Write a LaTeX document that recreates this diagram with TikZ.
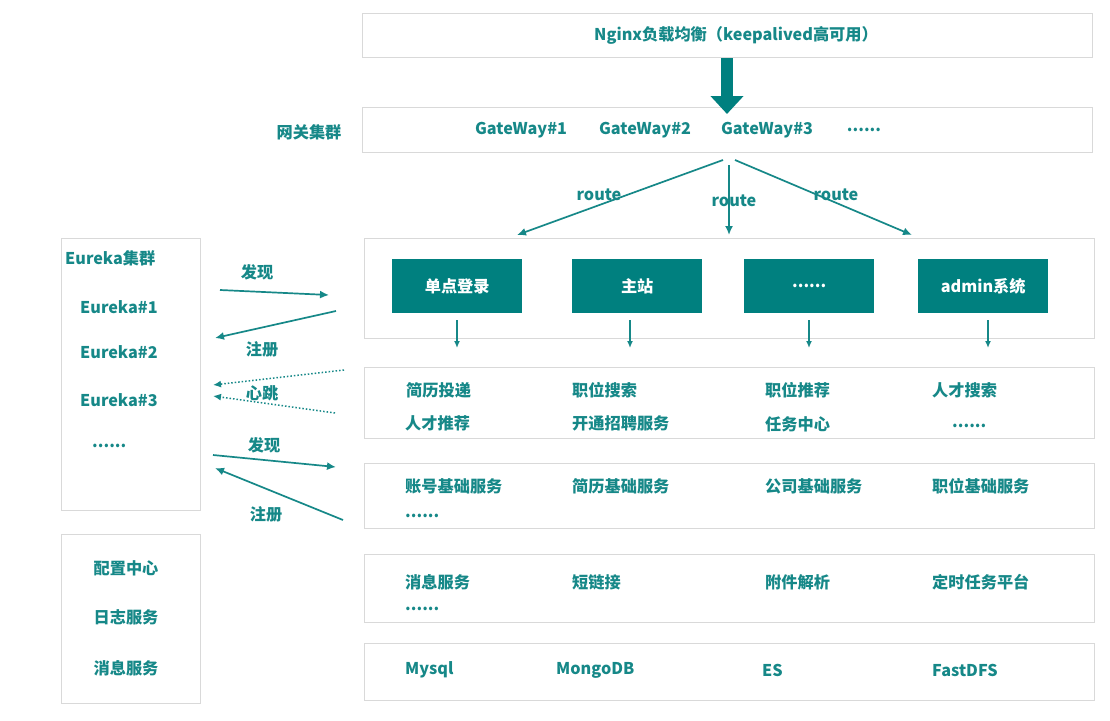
\documentclass[tikz,border=0pt]{standalone}
\usepackage{fontspec}
\setmainfont{Noto Sans CJK SC}
\usetikzlibrary{arrows.meta}
\definecolor{tealtxt}{HTML}{168888}
\definecolor{tealbox}{HTML}{00807F}
\definecolor{boxline}{HTML}{D9D9D9}
\begin{document}
\begin{tikzpicture}[x=1pt,y=-1pt,
  font=\fontsize{16.2}{19}\selectfont\bfseries,
  panel/.style={draw=boxline, line width=1.2pt, fill=white, anchor=north west, inner sep=0pt},
  lbl/.style={text=tealtxt, inner sep=0pt},
  wlbl/.style={lbl, anchor=west},
  svc/.style={fill=tealbox, text=white, minimum width=130pt, minimum height=54pt, inner sep=0pt, anchor=north west},
  arr/.style={draw=tealtxt, line width=1.7pt, -{Latex[length=9pt,width=8pt]}},
  darr/.style={draw=tealtxt, line width=1.5pt, dotted, -{Latex[length=8pt,width=7pt]}},
  sarr/.style={draw=tealtxt, line width=1.4pt, -{Latex[length=7pt,width=6pt]}}]
\useasboundingbox[fill=white] (0,0) rectangle (1110,720);

% panels
\node[panel, minimum width=730pt, minimum height=44pt] (nginx) at (362,13) {};
\node[lbl] (nginxt) at (736,35) {Nginx负载均衡（keepalived高可用）};
\node[panel, minimum width=730pt, minimum height=45pt] (gw) at (362,107) {};
\node[panel, minimum width=730pt, minimum height=100pt] (web) at (364,238) {};
\node[panel, minimum width=730pt, minimum height=71pt] (biz) at (364,367) {};
\node[panel, minimum width=730pt, minimum height=65pt] (base) at (364,463) {};
\node[panel, minimum width=730pt, minimum height=68pt] (comp) at (364,554) {};
\node[panel, minimum width=730pt, minimum height=57pt] (db) at (364,643) {};
\node[panel, minimum width=139pt, minimum height=272pt] (eureka) at (61,238) {};
\node[panel, minimum width=139pt, minimum height=169pt] (conf) at (61,534) {};

% big arrow
\coordinate (bigs) at (727,58);
\coordinate (bige) at (727,114);
\draw[tealbox, line width=12pt, -{Triangle[length=18pt,width=32pt]}] (bigs) -- (bige);

% gateway
\node[lbl] (gwlabel) at (309,132) {网关集群};
\node[lbl] (gw1) at (521,130) {GateWay\#1};
\node[lbl] (gw2) at (645,130) {GateWay\#2};
\node[lbl] (gw3) at (767,130) {GateWay\#3};
\node[lbl] (gw4) at (864,130) {......};

% route arrows
\coordinate (r1s) at (723,160);
\coordinate (r2s) at (729,165);
\coordinate (r3s) at (735,160);
\coordinate (r1e) at (517,235);
\coordinate (r2e) at (729,235);
\coordinate (r3e) at (912,235);
\draw[arr] (r1s) -- (r1e);
\draw[arr] (r2s) -- (r2e);
\draw[arr] (r3s) -- (r3e);
\node[lbl] (rt1) at (599,195) {route};
\node[lbl] (rt2) at (734,201) {route};
\node[lbl] (rt3) at (836,195) {route};

% web apps
\node[svc] (sso) at (392,259) {单点登录};
\node[svc] (main) at (572,259) {主站};
\node[svc] (more) at (744,259) {......};
\node[svc] (admin) at (918,259) {admin系统};
\foreach \x/\n in {457/a,630/b,809/c,988/d}{
  \coordinate (d\n s) at (\x,320);
  \coordinate (d\n e) at (\x,348);
  \draw[sarr] (d\n s) -- (d\n e);
}

% business row
\node[wlbl] (b1) at (406,390) {简历投递};
\node[wlbl] (b2) at (572,390) {职位搜索};
\node[wlbl] (b3) at (765,390) {职位推荐};
\node[wlbl] (b4) at (932,390) {人才搜索};
\node[wlbl] (b5) at (405,423) {人才推荐};
\node[wlbl] (b6) at (572,423) {开通招聘服务};
\node[wlbl] (b7) at (765,424) {任务中心};
\node[wlbl] (b8) at (952,426) {......};

% base row
\node[wlbl] (c1) at (405,486) {账号基础服务};
\node[wlbl] (c2) at (572,486) {简历基础服务};
\node[wlbl] (c3) at (765,486) {公司基础服务};
\node[wlbl] (c4) at (932,486) {职位基础服务};
\node[wlbl] (c5) at (405,516) {......};

% component row
\node[wlbl] (m1) at (405,582) {消息服务};
\node[wlbl] (m2) at (572,582) {短链接};
\node[wlbl] (m3) at (765,582) {附件解析};
\node[wlbl] (m4) at (932,582) {定时任务平台};
\node[wlbl] (m5) at (405,609) {......};

% db row
\node[wlbl] (s1) at (405,670) {Mysql};
\node[wlbl] (s2) at (556,670) {MongoDB};
\node[wlbl] (s3) at (762,670) {ES};
\node[wlbl] (s4) at (932,670) {FastDFS};

% eureka
\node[wlbl] (e0) at (65,258) {Eureka集群};
\node[wlbl] (e1) at (80,307) {Eureka\#1};
\node[wlbl] (e2) at (80,352) {Eureka\#2};
\node[wlbl] (e3) at (80,400) {Eureka\#3};
\node[wlbl] (e4) at (92,446) {......};

% config
\node[lbl] (f1) at (126,568) {配置中心};
\node[lbl] (f2) at (126,617) {日志服务};
\node[lbl] (f3) at (126,668) {消息服务};

% discovery arrows
\coordinate (a1s) at (220,290); \coordinate (a1e) at (329,295);
\coordinate (a2s) at (336,311); \coordinate (a2e) at (215,338);
\coordinate (a3s) at (344,370); \coordinate (a3e) at (213,385);
\coordinate (a4s) at (335,413); \coordinate (a4e) at (213,396);
\coordinate (a5s) at (213,455); \coordinate (a5e) at (336,467);
\coordinate (a6s) at (343,520); \coordinate (a6e) at (215,468);
\draw[arr] (a1s) -- (a1e);
\draw[arr] (a2s) -- (a2e);
\draw[darr] (a3s) -- (a3e);
\draw[darr] (a4s) -- (a4e);
\draw[arr] (a5s) -- (a5e);
\draw[arr] (a6s) -- (a6e);
\node[lbl] (l1) at (257,272) {发现};
\node[lbl] (l2) at (262,349) {注册};
\node[lbl] (l3) at (262,393) {心跳};
\node[lbl] (l4) at (264,445) {发现};
\node[lbl] (l5) at (266,514) {注册};
\end{tikzpicture}
\end{document}
